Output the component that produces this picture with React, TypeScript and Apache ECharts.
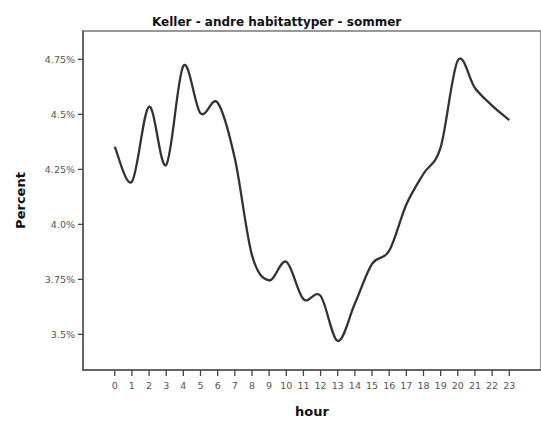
import React, { useEffect, useRef } from "react";
import * as echarts from "echarts";

const hours = [0,1,2,3,4,5,6,7,8,9,10,11,12,13,14,15,16,17,18,19,20,21,22,23];
const percentValues = [4.353, 4.194, 4.535, 4.27, 4.72, 4.505, 4.553, 4.30, 3.86, 3.745, 3.83, 3.66, 3.675, 3.47, 3.64, 3.82, 3.88, 4.09, 4.23, 4.35, 4.745, 4.62, 4.54, 4.474];
const yTicks = [3.5, 3.75, 4.0, 4.25, 4.5, 4.75];
const titleText = "Keller - andre habitattyper - sommer";
const xName = "hour";
const yName = "Percent";

const X_MIN = -1.85;
const X_MAX = 24.85;
const Y_MIN = 3.338;
const Y_MAX = 4.879;

function fmtPct(v: number): string {
  let s = v.toFixed(2);
  if (s.endsWith("0")) s = s.slice(0, -1);
  return s + "%";
}

export default function App() {
  const ref = useRef<HTMLDivElement>(null);
  useEffect(() => {
    document.body.style.margin = "0";
    if (!ref.current) return;
    const chart = echarts.init(ref.current, undefined, { renderer: "svg" });
    const font = "'DejaVu Sans', Verdana, sans-serif";
    chart.setOption({
      animation: false,
      backgroundColor: "#ffffff",
      title: {
        text: titleText,
        left: 147,
        top: 11,
        textStyle: { fontFamily: font, fontSize: 12, fontWeight: "bold", color: "#111" },
      },
      grid: {
        left: 83,
        top: 31,
        width: 462,
        bottom: 54,
        show: true,
        borderColor: "#777",
        borderWidth: 1.5,
        containLabel: false,
      },
      xAxis: {
        type: "value",
        min: X_MIN,
        max: X_MAX,
        name: xName,
        nameLocation: "middle",
        nameGap: 35,
        nameTextStyle: { fontFamily: font, fontSize: 13, fontWeight: "bold", color: "#111" },
        axisLine: { show: true, onZero: false, lineStyle: { color: "#555", width: 1.5 } },
        axisTick: { show: false },
        axisLabel: {
          customValues: hours,
          fontFamily: font,
          fontSize: 9.5,
          color: "#555",
          margin: 10,
        },
        splitLine: { show: false },
      },
      yAxis: {
        type: "value",
        min: Y_MIN,
        max: Y_MAX,
        name: yName,
        nameLocation: "middle",
        nameGap: 56,
        nameRotate: 90,
        nameTextStyle: { fontFamily: font, fontSize: 13, fontWeight: "bold", color: "#111" },
        axisLine: { show: true, onZero: false, lineStyle: { color: "#555", width: 1.5 } },
        axisTick: { show: false },
        axisLabel: {
          customValues: yTicks,
          formatter: (v: number) => fmtPct(v),
          fontFamily: font,
          fontSize: 9.5,
          color: "#555",
          margin: 8,
        },
        splitLine: { show: false },
      },
      series: [
        {
          type: "custom",
          coordinateSystem: "cartesian2d",
          data: hours.map((h, i) => [h, percentValues[i]]),
          encode: { x: 0, y: 1 },
          clip: false,
          renderItem: (params: any, api: any) => {
            if (params.dataIndex !== 0) return null;
            const pts = hours.map((h, i) => api.coord([h, percentValues[i]]));
            const n = pts.length;
            const P = (k: number) => pts[Math.max(0, Math.min(n - 1, k))];
            let d = `M${pts[0][0]},${pts[0][1]}`;
            for (let i = 0; i < n - 1; i++) {
              const p0 = P(i - 1), p1 = P(i), p2 = P(i + 1), p3 = P(i + 2);
              const c1x = p1[0] + (p2[0] - p0[0]) / 6;
              const c1y = p1[1] + (p2[1] - p0[1]) / 6;
              const c2x = p2[0] - (p3[0] - p1[0]) / 6;
              const c2y = p2[1] - (p3[1] - p1[1]) / 6;
              d += ` C${c1x},${c1y} ${c2x},${c2y} ${p2[0]},${p2[1]}`;
            }
            const tickStyle = { stroke: "#444", lineWidth: 1.3 };
            const xTickEls = hours.map((h) => {
              const c = api.coord([h, Y_MIN]);
              return {
                type: "line",
                shape: { x1: c[0], y1: c[1], x2: c[0], y2: c[1] + 6 },
                style: tickStyle,
              };
            });
            const yTickEls = yTicks.map((v) => {
              const c = api.coord([X_MIN, v]);
              return {
                type: "line",
                shape: { x1: c[0] - 5, y1: c[1], x2: c[0], y2: c[1] },
                style: tickStyle,
              };
            });
            return {
              type: "group",
              children: [
                ...xTickEls,
                ...yTickEls,
                {
                  type: "path",
                  shape: { pathData: d },
                  style: { fill: "none", stroke: "#333", lineWidth: 2.3 },
                },
              ],
            };
          },
        },
      ],
    });
    return () => chart.dispose();
  }, []);
  return <div ref={ref} style={{ width: 541, height: 424 }} />;
}
